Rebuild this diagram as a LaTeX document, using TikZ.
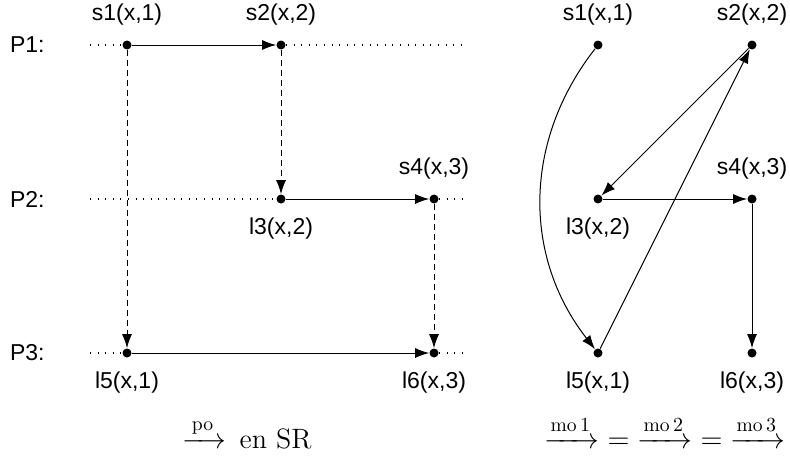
\documentclass[tikz,border=0pt]{standalone}
\usepackage{amsmath}
\usepackage{fontspec}
\setsansfont{Liberation Sans}
\usetikzlibrary{arrows.meta,positioning}

\begin{document}
\begin{tikzpicture}[x=0.5pt,y=-0.5pt,font=\sffamily\fontsize{11.5}{13}\selectfont,
  node distance=7pt,
  dot/.style={circle,fill,inner sep=0pt,minimum size=4.5pt},
  lbl/.style={inner sep=0pt},
  captxt/.style={inner sep=0pt,anchor=base,font=\rmfamily\fontsize{14}{16}\selectfont},
  ev/.style={-{Latex[length=7pt,width=5pt]},line width=0.5pt},
  pev/.style={ev,dash pattern=on 3pt off 2pt},
  tl/.style={line width=0.6pt,dash pattern=on 0.5pt off 3.3pt}]
\useasboundingbox (0,0) rectangle (790,455);
% execution in SR
\node[dot] (s1) at (127,45) {};
\node[dot] (s2) at (281,45) {};
\node[dot] (l3) at (281,199) {};
\node[dot] (s4) at (434,199) {};
\node[dot] (l5) at (127,353) {};
\node[dot] (l6) at (434,353) {};
\node[lbl,above=of s1] (s1l) {s1(x,1)};
\node[lbl,above=of s2] (s2l) {s2(x,2)};
\node[lbl,above=of s4] (s4l) {s4(x,3)};
\node[lbl,below=of l3] (l3l) {l3(x,2)};
\node[lbl,below=of l5] (l5l) {l5(x,1)};
\node[lbl,below=of l6] (l6l) {l6(x,3)};
\coordinate (p1w) at (90,45); \coordinate (p1e) at (468,45);
\coordinate (p2w) at (90,199); \coordinate (p2e) at (468,199);
\coordinate (p3w) at (90,353); \coordinate (p3e) at (468,353);
\node[lbl,anchor=east] (p1) at (45,45) {P1:};
\node[lbl,anchor=east] (p2) at (45,199) {P2:};
\node[lbl,anchor=east] (p3) at (45,353) {P3:};
\draw[tl] (p1w)--(s1); \draw[tl] (s2)--(p1e);
\draw[tl] (p2w)--(l3); \draw[tl] (s4)--(p2e);
\draw[tl] (p3w)--(l5); \draw[tl] (l6)--(p3e);
\draw[ev] (s1)--(s2); \draw[ev] (l3)--(s4); \draw[ev] (l5)--(l6);
\draw[pev] (s1)--(l5); \draw[pev] (s2)--(l3); \draw[pev] (s4)--(l6);
\node[captxt] (cap1) at (247,448) {$\xrightarrow{\,\text{po}\,}$\, en SR};
% memory orders
\node[dot] (ms1) at (598,45) {};
\node[dot] (ms2) at (752,45) {};
\node[dot] (ml3) at (598,199) {};
\node[dot] (ms4) at (752,199) {};
\node[dot] (ml5) at (598,353) {};
\node[dot] (ml6) at (752,353) {};
\node[lbl,above=of ms1] (ms1l) {s1(x,1)};
\node[lbl,above=of ms2] (ms2l) {s2(x,2)};
\node[lbl,above=of ms4] (ms4l) {s4(x,3)};
\node[lbl,below=of ml3] (ml3l) {l3(x,2)};
\node[lbl,below=of ml5] (ml5l) {l5(x,1)};
\node[lbl,below=of ml6] (ml6l) {l6(x,3)};
\draw[ev] (ms1) to[bend right=38] (ml5);
\draw[ev] (ms2)--(ml3); \draw[ev] (ml5)--(ms2);
\draw[ev] (ml3)--(ms4); \draw[ev] (ms4)--(ml6);
\node[captxt] (cap2) at (665,448) {$\xrightarrow{\text{mo}\,1}\;=\;\xrightarrow{\text{mo}\,2}\;=\;\xrightarrow{\text{mo}\,3}$};
\end{tikzpicture}
\end{document}
